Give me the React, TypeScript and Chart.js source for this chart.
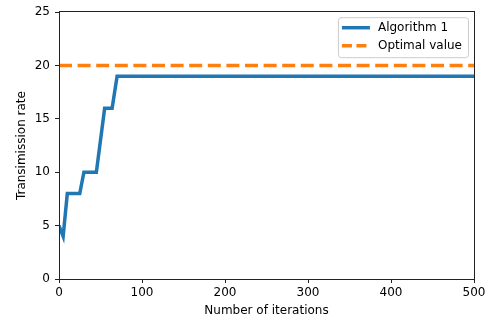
import React, { useEffect, useRef } from 'react';
import { Chart, registerables } from 'chart.js';

Chart.register(...registerables);

const iterations = [0, 5, 10, 25, 30, 45, 55, 64, 70, 500];
const algorithm1 = [5, 4, 8, 8, 10, 10, 16, 16, 19, 19];
const optimalX = [0, 500];
const optimalY = [20, 20];
const seriesLabels = ['Algorithm 1', 'Optimal value'];
const xTitle = 'Number of iterations';
const yTitle = 'Transimission rate';
const xRange = [0, 500];
const yRange = [0, 25];

const FONT = 'DejaVu Sans';
const BLUE = '#1f77b4';
const ORANGE = '#ff7f0e';

const framePlugin = {
  id: 'frame',
  afterDatasetsDraw(chart: any) {
    const { ctx, chartArea: a } = chart;
    ctx.save();
    ctx.strokeStyle = '#222';
    ctx.lineWidth = 1;
    ctx.strokeRect(Math.round(a.left) + 0.5, Math.round(a.top) - 0.5, Math.round(a.right - a.left), Math.round(a.bottom - a.top) + 1);
    ctx.restore();
  },
};

const legendPlugin = {
  id: 'mplLegend',
  afterDraw(chart: any) {
    const { ctx, chartArea: a } = chart;
    ctx.save();
    ctx.font = `12px "${FONT}"`;
    const tw = Math.max(...seriesLabels.map((s) => ctx.measureText(s).width));
    const handleLen = 28;
    const w = 4 + handleLen + 8 + tw + 6;
    const h = 40;
    const right = a.right - 6;
    const top = a.top + 5;
    const left = right - w;
    ctx.fillStyle = 'rgba(255,255,255,0.8)';
    ctx.strokeStyle = '#cccccc';
    ctx.lineWidth = 1;
    const r = 3;
    ctx.beginPath();
    ctx.moveTo(left + r, top + 0.5);
    ctx.arcTo(right + 0.5, top + 0.5, right + 0.5, top + h, r);
    ctx.arcTo(right + 0.5, top + h + 0.5, left, top + h + 0.5, r);
    ctx.arcTo(left + 0.5, top + h + 0.5, left + 0.5, top, r);
    ctx.arcTo(left + 0.5, top + 0.5, right, top + 0.5, r);
    ctx.closePath();
    ctx.fill();
    ctx.stroke();
    const rows = [top + 10.5, top + 28.5];
    const colors = [BLUE, ORANGE];
    const dashes = [[], [10, 4.5]];
    rows.forEach((y, i) => {
      ctx.strokeStyle = colors[i];
      ctx.lineWidth = 3.5;
      ctx.setLineDash(dashes[i]);
      ctx.beginPath();
      ctx.moveTo(left + 4, y);
      ctx.lineTo(left + 4 + handleLen, y);
      ctx.stroke();
      ctx.setLineDash([]);
      ctx.fillStyle = '#000';
      ctx.textBaseline = 'middle';
      ctx.textAlign = 'left';
      ctx.fillText(seriesLabels[i], left + 4 + handleLen + 8, y);
    });
    ctx.restore();
  },
};

export default function App() {
  const ref = useRef<HTMLCanvasElement>(null);
  useEffect(() => {
    document.body.style.margin = '0';
    const chart = new Chart(ref.current!, {
      type: 'line',
      data: {
        datasets: [
          {
            label: seriesLabels[0],
            data: iterations.map((x, i) => ({ x, y: algorithm1[i] })),
            borderColor: BLUE,
            borderWidth: 3.5,
            pointRadius: 0,
            fill: false,
            tension: 0,
          },
          {
            label: seriesLabels[1],
            data: optimalX.map((x, i) => ({ x, y: optimalY[i] })),
            borderColor: ORANGE,
            borderWidth: 3.5,
            borderDash: [13, 5.6],
            pointRadius: 0,
            fill: false,
          },
        ],
      },
      options: {
        animation: false,
        responsive: false,
        layout: { padding: { top: 10, right: 20, left: 0, bottom: 0 } },
        plugins: { legend: { display: false }, tooltip: { enabled: false } },
        scales: {
          x: {
            type: 'linear',
            min: xRange[0],
            max: xRange[1],
            ticks: { stepSize: 100, color: '#000', font: { family: FONT, size: 12 }, padding: 3, maxRotation: 0 },
            grid: { drawOnChartArea: false, tickLength: 4, color: '#222' },
            border: { display: false },
            title: { display: true, text: xTitle, color: '#000', font: { family: FONT, size: 12 }, padding: { top: 0, bottom: 4 } },
            afterFit: (s: any) => { s.height = 43; },
          },
          y: {
            type: 'linear',
            min: yRange[0],
            max: yRange[1],
            ticks: { stepSize: 5, color: '#000', font: { family: FONT, size: 12 }, padding: 5 },
            grid: { drawOnChartArea: false, tickLength: 4, color: '#222' },
            border: { display: false },
            title: { display: true, text: yTitle, color: '#000', font: { family: FONT, size: 12 }, padding: { top: 15, bottom: 0 } },
            afterFit: (s: any) => { s.width = 59; },
          },
        },
      },
      plugins: [framePlugin, legendPlugin],
    });
    return () => chart.destroy();
  }, []);
  return <canvas ref={ref} width={494} height={322} style={{ display: 'block' }} />;
}
